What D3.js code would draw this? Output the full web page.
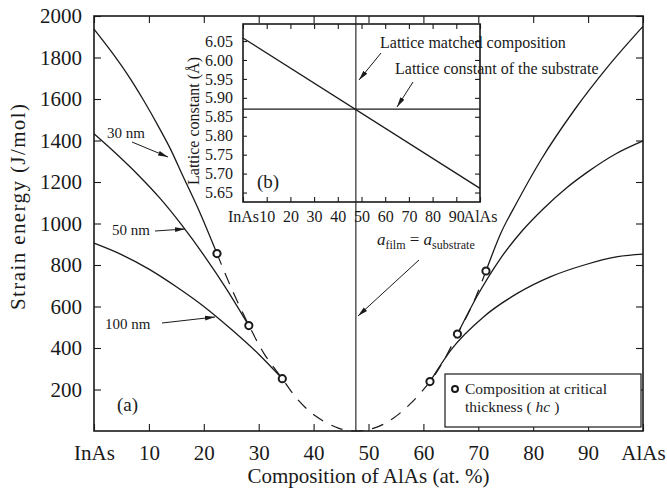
<!DOCTYPE html>
<html>
<head>
<meta charset="utf-8">
<script src="https://cdn.jsdelivr.net/npm/d3@7/dist/d3.min.js"></script>
<style>
  html, body { margin: 0; padding: 0; background: #fff; }
  svg { display: block; }
</style>
</head>
<body>
<svg id="chart" width="667" height="490"></svg>
<script>
// ---- data: composition (at.% AlAs) vs strain energy (J/mol) ----
const xTickVals = [0, 10, 20, 30, 40, 50, 60, 70, 80, 90, 100];
const xTickLabels = ["InAs", "10", "20", "30", "40", "50", "60", "70", "80", "90", "AlAs"];
const yTickVals = [200, 400, 600, 800, 1000, 1200, 1400, 1600, 1800, 2000];

// relaxed-film strain energy for each thickness, InAs-rich side
const h30Left  = [[0,1937],[3,1834],[6,1722],[9,1595],[12,1455],[14,1355],[16,1240],[19,1070],[22.4,855]];
const h50Left  = [[0,1432],[4,1337],[8,1235],[12,1122],[16,992],[20,848],[24,690],[28.2,508]];
const h100Left = [[0,905],[5,850],[10,780],[15,695],[20,600],[25,490],[30,370],[34.3,252]];
// AlAs-rich side
const h30Right  = [[71.4,771],[74.1,953],[77,1100],[81.4,1306],[87.5,1547],[93.6,1756],[100,1950]];
const h50Right  = [[66.2,467],[70,660],[74,830],[78,965],[82,1075],[86,1170],[90,1250],[95,1335],[100,1398]];
const h100Right = [[61.2,238],[65,390],[71,551],[77.1,663],[83.2,744],[89.3,800],[95.4,840],[100,852]];
// fully coherent strain energy (dashed)
const coherent = [[22.4,855],[25,690],[28.2,510],[31,372],[34.3,252],[37,155],[40.3,73],[44.5,14],[47.7,0],
                  [51,14],[54,52],[57.5,128],[61.2,238],[63.5,330],[66.2,467],[69,612],[71.4,771]];
// compositions at critical thickness
const criticalPts = [[22.4,855],[28.2,508],[34.3,252],[61.2,238],[66.2,467],[71.4,771]];
const latticeMatchX = 47.7;

// inset (b): lattice constant vs composition
const insetYTicks = [5.65, 5.70, 5.75, 5.80, 5.85, 5.90, 5.95, 6.00, 6.05];
const alloyLattice = [[0, 6.058], [100, 5.661]];
const substrateLattice = 5.870;

// ---- drawing ----
const serif = "'Liberation Serif', 'Times New Roman', serif";
const ink = "#1a1a1a";
const svg = d3.select("#chart");

const x = d3.scaleLinear().domain([0, 100]).range([94, 643]);
const y = d3.scaleLinear().domain([0, 2000]).range([431, 16]);

// arrowhead marker
svg.append("defs").append("marker")
  .attr("id", "arrow").attr("viewBox", "0 0 10 6").attr("refX", 10).attr("refY", 3)
  .attr("markerWidth", 10).attr("markerHeight", 6).attr("markerUnits", "userSpaceOnUse")
  .attr("orient", "auto")
  .append("path").attr("d", "M0,0.6 L10,3 L0,5.4 Z").attr("fill", ink);

function styleAxis(g, size) {
  g.attr("font-family", serif).attr("font-size", size).attr("color", ink);
  g.select(".domain").remove();
  g.selectAll(".tick line").attr("stroke-width", 1.1);
}

// main axes (ticks point inward on all four sides)
svg.append("g").attr("transform", `translate(0,${y(0)})`)
  .call(d3.axisBottom(x).tickValues(xTickVals).tickFormat((d, i) => xTickLabels[i])
    .tickSizeInner(-7).tickSizeOuter(0).tickPadding(14))
  .call(g => styleAxis(g, 21));
svg.append("g").attr("transform", `translate(0,${y(2000)})`)
  .call(d3.axisTop(x).tickValues(xTickVals).tickFormat("").tickSizeInner(-7).tickSizeOuter(0))
  .call(g => styleAxis(g, 21));
svg.append("g").attr("transform", `translate(${x(0)},0)`)
  .call(d3.axisLeft(y).tickValues(yTickVals).tickFormat(d3.format("d"))
    .tickSizeInner(-7).tickSizeOuter(0).tickPadding(12))
  .call(g => styleAxis(g, 21));
svg.append("g").attr("transform", `translate(${x(100)},0)`)
  .call(d3.axisRight(y).tickValues(yTickVals).tickFormat("").tickSizeInner(-7).tickSizeOuter(0))
  .call(g => styleAxis(g, 21));

svg.append("rect")
  .attr("x", x(0)).attr("y", y(2000)).attr("width", x(100) - x(0)).attr("height", y(0) - y(2000))
  .attr("fill", "none").attr("stroke", ink).attr("stroke-width", 1.6);

// axis titles
svg.append("text").attr("x", (x(0) + x(100)) / 2).attr("y", 483)
  .attr("text-anchor", "middle").attr("font-family", serif).attr("font-size", 21).attr("fill", ink)
  .text("Composition of AlAs (at. %)");
svg.append("text").attr("transform", "translate(25,207) rotate(-90)")
  .attr("text-anchor", "middle").attr("font-family", serif).attr("font-size", 21).attr("fill", ink)
  .attr("textLength", 206).attr("lengthAdjust", "spacing")
  .text("Strain energy (J/mol)");

// curves
const line = d3.line().x(d => x(d[0])).y(d => y(d[1])).curve(d3.curveMonotoneX);
const solids = [h30Left, h50Left, h100Left, h30Right, h50Right, h100Right];
svg.append("g").selectAll("path").data(solids).join("path")
  .attr("d", line).attr("fill", "none").attr("stroke", ink).attr("stroke-width", 1.3);

svg.append("path").datum(coherent)
  .attr("d", d3.line().x(d => x(d[0])).y(d => y(d[1])).curve(d3.curveCatmullRom))
  .attr("fill", "none").attr("stroke", ink).attr("stroke-width", 1.2)
  .attr("stroke-dasharray", "12,9");

// inset (b)
const xi = d3.scaleLinear().domain([0, 100]).range([243, 480]);
const yi = d3.scaleLinear().domain([5.625, 6.095]).range([202, 24]);
const inset = svg.append("g");
inset.append("rect").attr("x", xi(0)).attr("y", yi(6.095)).attr("width", xi(100) - xi(0))
  .attr("height", yi(5.625) - yi(6.095)).attr("fill", "#fff");
inset.append("g").attr("transform", `translate(0,${yi(5.625)})`)
  .call(d3.axisBottom(xi).tickValues(xTickVals).tickFormat((d, i) => xTickLabels[i])
    .tickSizeInner(-5).tickSizeOuter(0).tickPadding(9))
  .call(g => styleAxis(g, 16));
inset.append("g").attr("transform", `translate(0,${yi(6.095)})`)
  .call(d3.axisTop(xi).tickValues(xTickVals).tickFormat("").tickSizeInner(-5).tickSizeOuter(0))
  .call(g => styleAxis(g, 16));
inset.append("g").attr("transform", `translate(${xi(0)},0)`)
  .call(d3.axisLeft(yi).tickValues(insetYTicks).tickFormat(d3.format(".2f"))
    .tickSizeInner(-4).tickSizeOuter(0).tickPadding(10))
  .call(g => styleAxis(g, 16));
inset.append("g").attr("transform", `translate(${xi(100)},0)`)
  .call(d3.axisRight(yi).tickValues(insetYTicks).tickFormat("").tickSizeInner(-5).tickSizeOuter(0))
  .call(g => styleAxis(g, 16));
inset.append("rect").attr("x", xi(0)).attr("y", yi(6.095)).attr("width", xi(100) - xi(0))
  .attr("height", yi(5.625) - yi(6.095)).attr("fill", "none").attr("stroke", ink).attr("stroke-width", 1.6);
inset.append("path").datum(alloyLattice)
  .attr("d", d3.line().x(d => xi(d[0])).y(d => yi(d[1])))
  .attr("stroke", ink).attr("stroke-width", 1.3).attr("fill", "none");
inset.append("line").attr("x1", xi(0)).attr("x2", xi(100))
  .attr("y1", yi(substrateLattice)).attr("y2", yi(substrateLattice))
  .attr("stroke", ink).attr("stroke-width", 1.3);
inset.append("text").attr("transform", `translate(199,${(yi(5.625) + yi(6.095)) / 2 + 8}) rotate(-90)`)
  .attr("text-anchor", "middle").attr("font-family", serif).attr("font-size", 16).attr("fill", ink)
  .text("Lattice constant (Å)");
inset.append("text").attr("x", 257).attr("y", 188).attr("font-family", serif).attr("font-size", 19)
  .attr("fill", ink).text("(b)");

// lattice-matched composition line through both panels
svg.append("line").attr("x1", x(latticeMatchX)).attr("x2", x(latticeMatchX))
  .attr("y1", y(2000)).attr("y2", y(0)).attr("stroke", ink).attr("stroke-width", 1.1);

// critical-thickness markers
svg.append("g").selectAll("circle").data(criticalPts).join("circle")
  .attr("cx", d => x(d[0])).attr("cy", d => y(d[1])).attr("r", 3.6)
  .attr("fill", "#fff").attr("stroke", ink).attr("stroke-width", 2);

// annotations
function label(tx, ty, text, size, anchor = "start") {
  return svg.append("text").attr("x", tx).attr("y", ty).attr("font-family", serif)
    .attr("font-size", size).attr("fill", ink).attr("text-anchor", anchor).text(text);
}
function arrow(x1, y1, x2, y2) {
  svg.append("line").attr("x1", x1).attr("y1", y1).attr("x2", x2).attr("y2", y2)
    .attr("stroke", ink).attr("stroke-width", 1).attr("marker-end", "url(#arrow)");
}
label(107, 138, "30 nm", 15);
arrow(132, 142, 168, 157);
label(112, 235, "50 nm", 15);
arrow(155, 231, 185, 229);
label(105, 329, "100 nm", 15);
arrow(162, 323, 215, 317);
label(117, 411, "(a)", 19);

label(380, 48, "Lattice matched composition", 16);
arrow(381, 53, 359, 80);
label(395, 74, "Lattice constant of the substrate", 16);
arrow(413, 82, 397, 107);

const eq = svg.append("text").attr("x", 377).attr("y", 245).attr("font-family", serif)
  .attr("font-size", 17).attr("fill", ink);
eq.append("tspan").attr("font-style", "italic").text("a");
eq.append("tspan").attr("font-size", 12).attr("dy", 4).text("film");
eq.append("tspan").attr("dy", -4).text(" = ");
eq.append("tspan").attr("font-style", "italic").text("a");
eq.append("tspan").attr("font-size", 12).attr("dy", 4).text("substrate");
arrow(419, 260, 358, 316);

// legend
svg.append("rect").attr("x", 445).attr("y", 374).attr("width", 196).attr("height", 53)
  .attr("fill", "#fff").attr("stroke", ink).attr("stroke-width", 1.2);
svg.append("circle").attr("cx", 455).attr("cy", 389).attr("r", 3).attr("fill", "#fff")
  .attr("stroke", ink).attr("stroke-width", 2);
label(465, 394, "Composition at critical", 15.5);
const l2 = label(465, 412, "thickness ( ", 15.5);
l2.append("tspan").attr("font-style", "italic").text("hc");
l2.append("tspan").text(" )");
</script>
</body>
</html>
